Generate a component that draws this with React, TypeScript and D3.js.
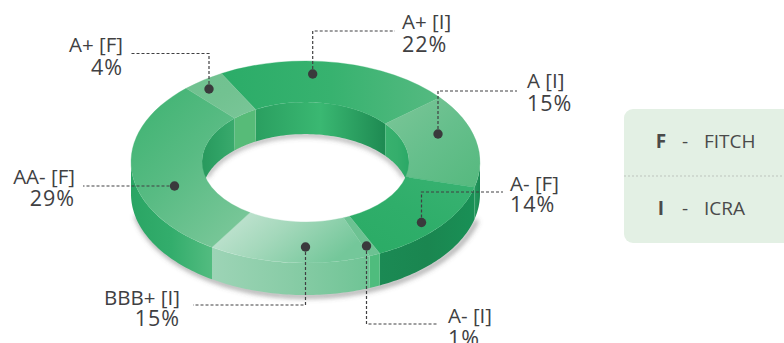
import React from "react";
import * as d3 from "d3";

const ratings = ["A+ [I]", "A [I]", "A- [F]", "A- [I]", "BBB+ [I]", "AA- [F]", "A+ [F]"];
const shares = [22, 15, 14, 1, 15, 29, 4];

// per slice: top face gradient, outer wall and inner wall stops
const topStops = [
  ["#2bac68", "#37b26f", "#55ba81"],
  ["#7cc698", "#66bf8c", "#55b97e"],
  ["#39b272", "#2fae6a", "#2aab65"],
  ["#6cc292", "#6cc292", "#6cc292"],
  ["#cbe7d8", "#a4d8bb", "#74c79a"],
  ["#3cb270", "#58bb83", "#7ac799"],
  ["#70c190", "#72c291", "#7ac698"],
];
const topDir = [[0, 0, 1, 0], [0, 0, 1, 1], [1, 0, 0, 1], [0, 0, 1, 0], [0, 0, 1, 0.4], [0, 0, 0.8, 1], [0, 0, 1, 1]];
const outerStops = [
  ["#2ba064", "#2ba064", "#2ba064"],
  ["#249a5d", "#1f9058", "#1a8a52"],
  ["#1b8a54", "#1a8650", "#199056"],
  ["#4fbc7d", "#4fbc7d", "#4fbc7d"],
  ["#9dd4b6", "#88cca6", "#6fc495"],
  ["#2aa564", "#33ad6c", "#53bc80"],
  ["#2ba064", "#2ba064", "#2ba064"],
];
const innerStops = [
  ["#2a9f60", "#3ab872", "#1e8a52"],
  ["#38b16e", "#35ae6c", "#2aa866"],
  ["#2aa866", "#2aa866", "#2aa866"],
  ["#2aa866", "#2aa866", "#2aa866"],
  ["#2aa866", "#2aa866", "#2aa866"],
  ["#28995d", "#2fa265", "#3aaa6d"],
  ["#57bb78", "#57bb78", "#57bb78"],
];

const legendKeys = ["F", "I"];
const legendNames = ["FITCH", "ICRA"];

const W = 784, H = 343;
const cx = 305.5, cy = 162;
const rOuter = 174.5, rInner = 103.5;
const squash = 0.579;
const depth = 32;
const start = (-28.8 * Math.PI) / 180;

const pie = d3.pie<number>().sort(null).startAngle(start).endAngle(start + 2 * Math.PI);
const arcs = pie(shares);
const arcGen = d3.arc<d3.PieArcDatum<number>>().innerRadius(rInner).outerRadius(rOuter);

const pt = (a: number, r: number, dy = 0): [number, number] => [
  cx + r * Math.sin(a),
  cy - r * Math.cos(a) * squash + dy,
];

const line = d3.line();
function wall(a0: number, a1: number, r: number) {
  const n = 48;
  const scale = d3.scaleLinear().domain([0, n]).range([a0, a1]);
  const angles = d3.range(n + 1).map((i) => scale(i));
  const upper = angles.map((a) => pt(a, r));
  const lower = angles.slice().reverse().map((a) => pt(a, r, depth));
  return line([...upper, ...lower]) + "Z";
}
function edge(a0: number, a1: number, r: number, dy: number) {
  const n = 64;
  const scale = d3.scaleLinear().domain([0, n]).range([a0, a1]);
  return line(d3.range(n + 1).map((i) => pt(scale(i), r, dy))) as string;
}

const PI = Math.PI;
function clampSpan(a0: number, a1: number, lo: number, hi: number): [number, number][] {
  const out: [number, number][] = [];
  for (const k of [-2, 0, 2]) {
    const l = lo + k * PI, h = hi + k * PI;
    const s = Math.max(a0, l), e = Math.min(a1, h);
    if (e > s) out.push([s, e]);
  }
  return out;
}

const labels = [
  { x: 402, y: [29, 52], anchor: "start", dot: [312.7, 74], path: [[312.7, 31], [395, 31]] },
  { x: 527, y: [88, 111], anchor: "start", dot: [438, 134], path: [[438, 91], [517, 91]] },
  { x: 510, y: [191, 212], anchor: "start", dot: [421.5, 222.5], path: [[421.5, 192], [503, 192]] },
  { x: 448, y: [323, 346], anchor: "start", dot: [366.5, 246], path: [[366.5, 324], [438, 324]] },
  { x: 180, y: [305, 326], anchor: "end", dot: [305.5, 247], path: [[305.5, 305], [193, 305]] },
  { x: 75, y: [184, 206], anchor: "end", dot: [174.5, 186], path: [[83, 186]] },
  { x: 123, y: [52, 75], anchor: "end", dot: [209, 89], path: [[209, 53.5], [130, 53.5]] },
];

const font = "'Open Sans', sans-serif";
const ink = "#404042";

function Grad({ id, stops, dir = [0, 0, 1, 0] }: { id: string; stops: string[]; dir?: number[] }) {
  return (
    <linearGradient id={id} x1={dir[0]} y1={dir[1]} x2={dir[2]} y2={dir[3]}>
      {stops.map((c, i) => (
        <stop key={i} offset={i / (stops.length - 1)} stopColor={c} />
      ))}
    </linearGradient>
  );
}

export default function App() {
  return (
    <svg width={W} height={H} viewBox={`0 0 ${W} ${H}`} style={{ position: "fixed", left: 0, top: 0, display: "block", background: "#fff" }}>
      <defs>
        {arcs.map((_, i) => (
          <React.Fragment key={i}>
            <Grad id={`t${i}`} stops={topStops[i]} dir={topDir[i]} />
            <Grad id={`o${i}`} stops={outerStops[i]} />
            <Grad id={`n${i}`} stops={innerStops[i]} />
          </React.Fragment>
        ))}
        <filter id="blur" x="-20%" y="-20%" width="140%" height="140%">
          <feGaussianBlur stdDeviation="2.5" />
        </filter>
      </defs>

      {/* soft shadows */}
      <path d={edge(PI / 2 + 0.25, (3 * PI) / 2 - 0.2, rOuter, depth + 1)} fill="none" stroke="#555" strokeOpacity={0.5} strokeWidth={5} filter="url(#blur)" transform="translate(2,0)" />
      <path d={edge(-PI / 2 + 0.3, PI / 2 - 0.3, rInner, depth + 1)} fill="none" stroke="#555" strokeOpacity={0.5} strokeWidth={4} filter="url(#blur)" />

      {/* outer walls (front half) */}
      {arcs.map((d, i) =>
        clampSpan(d.startAngle, d.endAngle, PI / 2, (3 * PI) / 2).map(([s, e], j) => (
          <path key={`o${i}-${j}`} d={wall(s, e, rOuter)} fill={`url(#o${i})`} />
        ))
      )}
      {/* inner walls (back half) */}
      {arcs.map((d, i) =>
        clampSpan(d.startAngle, d.endAngle, -PI / 2, PI / 2).map(([s, e], j) => (
          <path key={`n${i}-${j}`} d={wall(s, e, rInner)} fill={`url(#n${i})`} />
        ))
      )}
      {/* top face */}
      <g transform={`translate(${cx},${cy}) scale(1,${squash})`}>
        {arcs.map((d, i) => (
          <path key={i} d={arcGen(d) as string} fill={`url(#t${i})`} stroke={`url(#t${i})`} strokeWidth={0.4} />
        ))}
      </g>

      {/* leaders & labels */}
      {labels.map((l, i) => (
        <g key={i}>
          <path
            d={line([l.dot as [number, number], ...(l.path as [number, number][])]) as string}
            fill="none"
            stroke={ink}
            strokeWidth={1.2}
            strokeDasharray="3 2"
          />
          <circle cx={l.dot[0]} cy={l.dot[1]} r={4.7} fill="#3a3a3c" />
          <text x={l.x} y={l.y[0]} textAnchor={l.anchor as "start" | "end"} fontFamily={font} fontSize={20.5} fill={ink}>
            {ratings[i]}
          </text>
          <text x={l.x} y={l.y[1]} textAnchor={l.anchor as "start" | "end"} fontFamily={font} fontSize={21.5} letterSpacing={1} fill={ink}>
            {shares[i]}%
          </text>
        </g>
      ))}

      {/* legend */}
      <rect x={624} y={109} width={180} height={134} rx={9} fill="#e3f0e4" />
      <line x1={624} x2={784} y1={176} y2={176} stroke="#bdc4bd" strokeWidth={1} strokeDasharray="2 2" />
      {legendKeys.map((k, i) => {
        const y = 148 + i * 67;
        return (
          <g key={k} fontFamily={font} fontSize={19} fill="#4a4a4a">
            <text x={661} y={y} textAnchor="middle" fontWeight={700}>{k}</text>
            <text x={685} y={y} textAnchor="middle">-</text>
            <text x={704} y={y}>{legendNames[i]}</text>
          </g>
        );
      })}
    </svg>
  );
}
